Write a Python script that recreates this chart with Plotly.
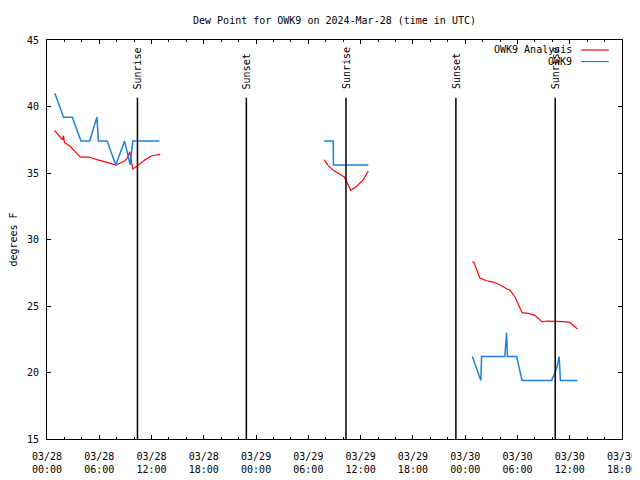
import plotly.graph_objects as go

# ---- data ----
obs_time = [
    "2024-03-28 00:54", "2024-03-28 01:54", "2024-03-28 02:54", "2024-03-28 03:54",
    "2024-03-28 04:54", "2024-03-28 05:44", "2024-03-28 05:54", "2024-03-28 06:54",
    "2024-03-28 07:54", "2024-03-28 08:54", "2024-03-28 09:33", "2024-03-28 09:51",
    "2024-03-28 10:54", "2024-03-28 11:54", "2024-03-28 12:54",
    "2024-03-29 00:00",
    "2024-03-29 07:48", "2024-03-29 08:51", "2024-03-29 08:53", "2024-03-29 09:54",
    "2024-03-29 10:54", "2024-03-29 11:54", "2024-03-29 12:53",
    "2024-03-29 18:00",
    "2024-03-30 00:49", "2024-03-30 01:48", "2024-03-30 01:53", "2024-03-30 04:33",
    "2024-03-30 04:45", "2024-03-30 04:51", "2024-03-30 05:54", "2024-03-30 06:32",
    "2024-03-30 09:55", "2024-03-30 10:30", "2024-03-30 10:47", "2024-03-30 10:56",
    "2024-03-30 12:53",
]
obs_dwpf = [
    41.0, 39.2, 39.2, 37.4,
    37.4, 39.2, 37.4, 37.4,
    35.6, 37.4, 35.6, 37.4,
    37.4, 37.4, 37.4,
    None,
    37.4, 37.4, 35.6, 35.6,
    35.6, 35.6, 35.6,
    None,
    21.2, 19.4, 21.2, 21.2,
    23.0, 21.2, 21.2, 19.4,
    19.4, 20.3, 21.2, 19.4,
    19.4,
]

ana_time = [
    "2024-03-28 00:52", "2024-03-28 01:47", "2024-03-28 01:54", "2024-03-28 02:00",
    "2024-03-28 02:40", "2024-03-28 03:49", "2024-03-28 04:53", "2024-03-28 05:44",
    "2024-03-28 06:53", "2024-03-28 07:55", "2024-03-28 08:54", "2024-03-28 09:12",
    "2024-03-28 09:30", "2024-03-28 09:51", "2024-03-28 10:30", "2024-03-28 11:16",
    "2024-03-28 12:02", "2024-03-28 13:00",
    "2024-03-29 00:00",
    "2024-03-29 07:48", "2024-03-29 08:17", "2024-03-29 08:52", "2024-03-29 09:26",
    "2024-03-29 10:08", "2024-03-29 10:24", "2024-03-29 10:52", "2024-03-29 11:33",
    "2024-03-29 12:19", "2024-03-29 12:53",
    "2024-03-29 18:00",
    "2024-03-30 00:49", "2024-03-30 01:00", "2024-03-30 01:41", "2024-03-30 02:28",
    "2024-03-30 03:13", "2024-03-30 03:59", "2024-03-30 04:45", "2024-03-30 05:08",
    "2024-03-30 05:42", "2024-03-30 06:32", "2024-03-30 07:14", "2024-03-30 08:00",
    "2024-03-30 08:50", "2024-03-30 09:20", "2024-03-30 11:14", "2024-03-30 12:00",
    "2024-03-30 12:53",
]
ana_dwpf = [
    38.2, 37.5, 37.8, 37.3,
    37.0, 36.2, 36.2, 36.0,
    35.8, 35.6, 35.9, 36.1,
    36.6, 35.3, 35.6, 36.0,
    36.3, 36.4,
    None,
    36.0, 35.55, 35.2, 35.0,
    34.7, 34.35, 33.7, 34.0,
    34.5, 35.15,
    None,
    28.3, 28.3, 27.1, 26.9,
    26.8, 26.6, 26.3, 26.2,
    25.7, 24.5, 24.45, 24.3,
    23.8, 23.87, 23.82, 23.77,
    23.27,
]

event_time = ["2024-03-28 10:23", "2024-03-28 22:53", "2024-03-29 10:19",
              "2024-03-29 22:56", "2024-03-30 10:20"]
event_label = ["Sunrise", "Sunset", "Sunrise", "Sunset", "Sunrise"]

x_tick_times = ["2024-03-28 00:00", "2024-03-28 06:00", "2024-03-28 12:00", "2024-03-28 18:00",
                "2024-03-29 00:00", "2024-03-29 06:00", "2024-03-29 12:00", "2024-03-29 18:00",
                "2024-03-30 00:00", "2024-03-30 06:00", "2024-03-30 12:00", "2024-03-30 18:00"]
x_tick_labels = [t[5:7] + "/" + t[8:10] + "<br>" + t[11:16] for t in x_tick_times]
y_ticks = [15, 20, 25, 30, 35, 40, 45]

FONT = "DejaVu Sans Mono"
RED = "#ff0000"
BLUE = "#1a80e6"

# page body has an 8px margin; figure sized/placed to compensate
W, H = 632, 472

fig = go.Figure()
fig.add_trace(go.Scatter(x=ana_time, y=ana_dwpf, mode="lines", name="OWK9 Analysis",
                         line=dict(color=RED, width=1.2), connectgaps=False))
fig.add_trace(go.Scatter(x=obs_time, y=obs_dwpf, mode="lines", name="OWK9",
                         line=dict(color=BLUE, width=1.5), connectgaps=False))

for t, lab in zip(event_time, event_label):
    fig.add_shape(type="line", xref="x", yref="paper", x0=t, x1=t, y0=0, y1=0.855,
                  line=dict(color="black", width=1.5))
    fig.add_annotation(x=t, xref="x", yref="paper", y=0.872, text=lab, textangle=-90,
                       showarrow=False, xanchor="center", yanchor="bottom",
                       font=dict(family=FONT, size=10, color="black"))

# custom legend (text right-aligned, sample to the right)
leg = [("OWK9 Analysis", RED, 0.975), ("OWK9", BLUE, 0.946)]
for txt, col, yy in leg:
    fig.add_annotation(x=0.917, y=yy, xref="paper", yref="paper", text=txt,
                       showarrow=False, xanchor="right", yanchor="middle",
                       font=dict(family=FONT, size=10, color="black"))
    fig.add_shape(type="line", xref="paper", yref="paper", x0=0.929, x1=0.977,
                  y0=yy, y1=yy, line=dict(color=col, width=1.2))

fig.update_layout(
    width=W, height=H,
    margin=dict(l=39, r=18, t=32, b=41, autoexpand=False),
    paper_bgcolor="white", plot_bgcolor="white",
    showlegend=False,
    font=dict(family=FONT, size=10, color="black"),
    title=dict(text="Dew Point for OWK9 on 2024-Mar-28 (time in UTC)",
               x=0.5, xref="paper", xanchor="center",
               y=1 - 12 / H, yref="container", yanchor="middle", automargin=False,
               font=dict(family=FONT, size=10, color="black")),
    xaxis=dict(type="date", range=["2024-03-28 00:00", "2024-03-30 18:00"],
               showgrid=False, zeroline=False, automargin=False,
               showline=True, linecolor="black", linewidth=1, mirror="allticks",
               ticks="inside", ticklen=4, tickcolor="black", tickwidth=1,
               tickmode="array", tickvals=x_tick_times, ticktext=x_tick_labels,
               ticklabelstandoff=8,
               tickfont=dict(family=FONT, size=10, color="black"),
               minor=dict(ticks="inside", ticklen=2, tickcolor="black", tickwidth=1,
                          tickmode="linear", tick0="2024-03-28 00:00", dtick=7200000,
                          showgrid=False)),
    yaxis=dict(range=[15, 45], showgrid=False, zeroline=False, automargin=False,
               showline=True, linecolor="black", linewidth=1, mirror="allticks",
               ticks="inside", ticklen=4, tickcolor="black", tickwidth=1,
               tickmode="array", tickvals=y_ticks, ticklabelstandoff=5,
               tickfont=dict(family=FONT, size=10, color="black"),
               title=dict(text="degrees F", standoff=14,
                          font=dict(family=FONT, size=10, color="black"))),
)

fig.write_html("out.html")
